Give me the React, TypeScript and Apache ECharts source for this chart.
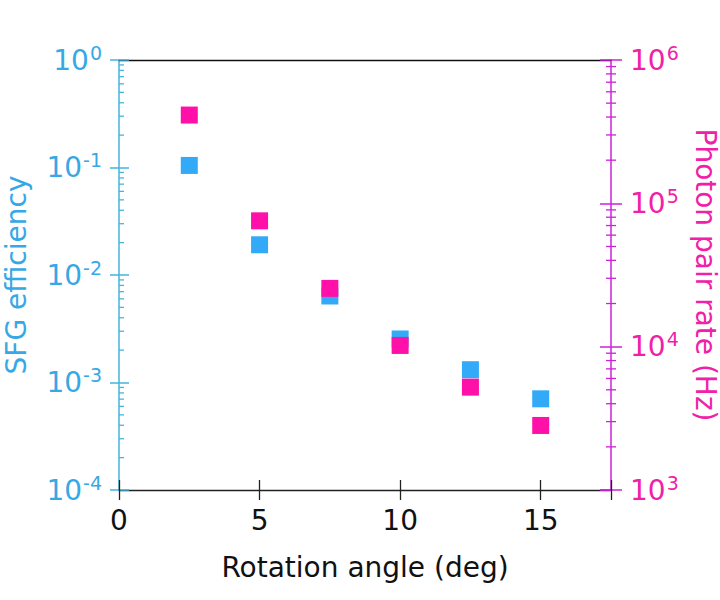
import React, { useEffect, useRef } from "react";
import * as echarts from "echarts";

const angles = [2.5, 5, 7.5, 10, 12.5, 15];
const sfgEfficiency = [0.1045, 0.0191, 0.00638, 0.00254, 0.001315, 0.000705];
const pairRate = [413000, 75500, 25500, 10200, 5220, 2820];

const xTicks = [0, 5, 10, 15];
const X_MIN = 0;
const X_MAX = 17.5;
const LEFT_MIN = 1e-4;
const LEFT_MAX = 1;
const RIGHT_MIN = 1e3;
const RIGHT_MAX = 1e6;
const leftMinorTicks: number[] = [];
for (const d of [1e-4, 1e-3, 1e-2, 1e-1]) for (let m = 2; m <= 9; m++) leftMinorTicks.push(m * d);
const rightMinorTicks: number[] = [];
for (const d of [1e3, 1e4, 1e5]) for (let m = 2; m <= 9; m++) rightMinorTicks.push(m * d);

const FONT = "DejaVu Sans, Liberation Sans, Arial, sans-serif";
const CYAN_LINE = "#45b5de";
const CYAN_TEXT = "#36a8e6";
const MAG_LINE = "#cc22d8";
const MAG_TEXT = "#f020a8";
const BLUE_MARK = "#33aaf8";
const PINK_MARK = "#ff10a8";

const powLabel = (v: number) => {
  const e = Math.round(Math.log10(v));
  return `{b|10}{s|${e}}`;
};

const richFor = (color: string) => ({
  b: { fontSize: 28, color, fontFamily: FONT, lineHeight: 34 },
  s: { fontSize: 19, color, fontFamily: FONT, verticalAlign: "top", lineHeight: 34, padding: [0, 0, 14, 1] },
});

export default function App() {
  const ref = useRef<HTMLDivElement>(null);
  useEffect(() => {
    if (!ref.current) return;
    const chart = echarts.init(ref.current, null, { renderer: "svg" });
    const minorRender = (side: "left" | "right", color: string) => (params: any, api: any) => {
      const cs = params.coordSys;
      const y = api.coord([X_MIN, api.value(1)])[1];
      const x1 = side === "left" ? cs.x : cs.x + cs.width - 5;
      const x2 = side === "left" ? cs.x + 5 : cs.x + cs.width + 5;
      return {
        type: "line",
        shape: { x1, y1: y, x2, y2: y },
        style: { stroke: color, lineWidth: 1.3 },
      };
    };
    chart.setOption({
      animation: false,
      grid: { left: 119, right: 109, top: 60, bottom: 110, outerBoundsMode: "none", containLabel: false },
      xAxis: [
        {
          type: "value",
          position: "bottom",
          min: X_MIN,
          max: X_MAX,
          interval: 5,
          axisLine: { onZero: false, lineStyle: { color: "#222", width: 1.3 } },
          axisTick: { inside: false, length: 10, lineStyle: { color: "#222", width: 1.3 } },
          axisLabel: {
            color: "#111",
            fontSize: 28,
            fontFamily: FONT,
            margin: 16,
            formatter: (v: number) => (xTicks.includes(v) ? String(v) : ""),
          },
          splitLine: { show: false },
          name: "Rotation angle (deg)",
          nameLocation: "middle",
          nameGap: 63,
          nameTextStyle: { color: "#111", fontSize: 28, fontFamily: FONT },
        },
        {
          type: "value",
          position: "bottom",
          min: X_MIN,
          max: X_MAX,
          interval: 5,
          axisLine: { show: false, onZero: false },
          axisTick: { inside: true, length: 10, lineStyle: { color: "#222", width: 1.3 } },
          axisLabel: { show: false },
          splitLine: { show: false },
        },
        {
          type: "value",
          position: "top",
          min: X_MIN,
          max: X_MAX,
          axisLine: { onZero: false, lineStyle: { color: "#111", width: 1.3 } },
          axisTick: { show: false },
          axisLabel: { show: false },
          splitLine: { show: false },
        },
      ],
      yAxis: [
        {
          type: "log",
          logBase: 10,
          position: "left",
          min: LEFT_MIN,
          max: LEFT_MAX,
          splitNumber: 4,
          axisLine: { onZero: false, lineStyle: { color: CYAN_LINE, width: 1.5 } },
          axisTick: { inside: false, length: 9, lineStyle: { color: CYAN_LINE, width: 1.5 } },
          axisLabel: { margin: 17, formatter: powLabel, rich: richFor(CYAN_TEXT) },
          splitLine: { show: false },
          name: "SFG efficiency",
          nameLocation: "middle",
          nameGap: 89,
          nameRotate: 90,
          nameTextStyle: { color: CYAN_TEXT, fontSize: 28, fontFamily: FONT },
        },
        {
          type: "log",
          logBase: 10,
          position: "right",
          min: RIGHT_MIN,
          max: RIGHT_MAX,
          splitNumber: 3,
          axisLine: { onZero: false, lineStyle: { color: MAG_LINE, width: 1.5 } },
          axisTick: { inside: false, length: 11, lineStyle: { color: MAG_LINE, width: 1.5 } },
          axisLabel: { margin: 19, formatter: powLabel, rich: richFor(MAG_TEXT) },
          splitLine: { show: false },
          name: "Photon pair rate (Hz)",
          nameLocation: "middle",
          nameGap: 80,
          nameRotate: -90,
          nameTextStyle: { color: MAG_TEXT, fontSize: 28, fontFamily: FONT },
        },
        {
          type: "log",
          logBase: 10,
          position: "left",
          min: LEFT_MIN,
          max: LEFT_MAX,
          splitNumber: 4,
          axisLine: { show: false, onZero: false },
          axisTick: { inside: true, length: 10, lineStyle: { color: CYAN_LINE, width: 1.5 } },
          axisLabel: { show: false },
          splitLine: { show: false },
        },
        {
          type: "log",
          logBase: 10,
          position: "right",
          min: RIGHT_MIN,
          max: RIGHT_MAX,
          splitNumber: 3,
          axisLine: { show: false, onZero: false },
          axisTick: { inside: true, length: 11, lineStyle: { color: MAG_LINE, width: 1.5 } },
          axisLabel: { show: false },
          splitLine: { show: false },
        },
      ],
      series: [
        {
          type: "custom",
          xAxisIndex: 0,
          yAxisIndex: 0,
          silent: true,
          clip: false,
          renderItem: minorRender("left", CYAN_LINE),
          data: leftMinorTicks.map((v) => [X_MIN, v]),
        },
        {
          type: "custom",
          xAxisIndex: 0,
          yAxisIndex: 1,
          silent: true,
          clip: false,
          renderItem: minorRender("right", MAG_LINE),
          data: rightMinorTicks.map((v) => [X_MIN, v]),
        },
        {
          type: "scatter",
          xAxisIndex: 0,
          yAxisIndex: 0,
          symbol: "rect",
          symbolSize: 17,
          itemStyle: { color: BLUE_MARK, opacity: 1 },
          data: angles.map((a, i) => [a, sfgEfficiency[i]]),
          z: 3,
        },
        {
          type: "scatter",
          xAxisIndex: 0,
          yAxisIndex: 1,
          symbol: "rect",
          symbolSize: 17,
          itemStyle: { color: PINK_MARK, opacity: 1 },
          data: angles.map((a, i) => [a, pairRate[i]]),
          z: 4,
        },
      ],
    });
    return () => chart.dispose();
  }, []);
  return (
    <div
      ref={ref}
      style={{ position: "absolute", left: 0, top: 0, width: 720, height: 600, background: "#fff" }}
    />
  );
}
